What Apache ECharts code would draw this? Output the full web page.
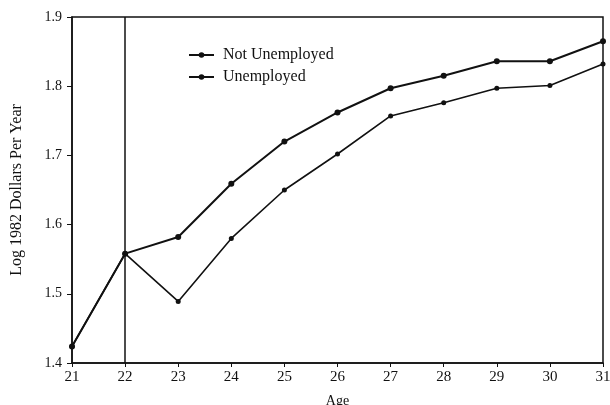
<!DOCTYPE html>
<html>
<head>
<meta charset="utf-8">
<script src="https://cdn.jsdelivr.net/npm/echarts@6/dist/echarts.min.js"></script>
<style>
  html, body { margin: 0; padding: 0; background: #fff; }
  #chart { width: 610px; height: 405px; }
</style>
</head>
<body>
<div id="chart"></div>
<script>
// Age in years and log earnings (1982 dollars) by unemployment history
const ages = [21, 22, 23, 24, 25, 26, 27, 28, 29, 30, 31];
const notUnemployed = [1.424, 1.558, 1.582, 1.659, 1.720, 1.762, 1.797, 1.815, 1.836, 1.836, 1.865];
const unemployed    = [1.424, 1.558, 1.489, 1.580, 1.650, 1.702, 1.757, 1.776, 1.797, 1.801, 1.832];
const markerAge = 22;

const ink = '#111';
const serif = '"Liberation Serif", "DejaVu Serif", serif';

const chart = echarts.init(document.getElementById('chart'), null, { renderer: 'canvas' });

const pairs = (ys) => ages.map((a, i) => [a, ys[i]]);

chart.setOption({
  animation: false,
  backgroundColor: '#fff',
  grid: {
    left: 72, right: 7, top: 17, bottom: 42,
    outerBoundsMode: 'none', containLabel: false,
    show: true, borderColor: ink, borderWidth: 1.5, backgroundColor: 'transparent'
  },
  legend: {
    orient: 'vertical',
    left: 183, top: 42,
    itemWidth: 25, itemHeight: 7, itemGap: 6,
    textStyle: { fontFamily: serif, fontSize: 16, color: ink, padding: [0, 0, 0, 4] },
    data: ['Not Unemployed', 'Unemployed']
  },
  xAxis: {
    type: 'value', min: 21, max: 31, interval: 1,
    name: 'Age', nameLocation: 'middle', nameGap: 31,
    nameTextStyle: { fontFamily: serif, fontSize: 14, color: ink, verticalAlign: 'top' },
    axisLine: { show: true, lineStyle: { color: ink, width: 1.5 } },
    axisTick: { show: true, length: 4, lineStyle: { color: ink } },
    axisLabel: { fontFamily: serif, fontSize: 15, color: ink, margin: 7 },
    splitLine: { show: false }
  },
  yAxis: {
    type: 'value', min: 1.4, max: 1.9, interval: 0.1,
    name: 'Log 1982 Dollars Per Year', nameLocation: 'middle', nameGap: 47,
    nameTextStyle: { fontFamily: serif, fontSize: 16, color: ink },
    axisLine: { show: true, lineStyle: { color: ink, width: 1.5 } },
    axisTick: { show: true, length: 5, lineStyle: { color: ink } },
    axisLabel: {
      fontFamily: serif, fontSize: 14, color: ink, margin: 10,
      formatter: (v) => v.toFixed(1)
    },
    splitLine: { show: false }
  },
  series: [
    {
      name: 'Not Unemployed', type: 'line',
      data: pairs(notUnemployed),
      symbol: 'circle', symbolSize: 6,
      lineStyle: { color: ink, width: 2 },
      itemStyle: { color: ink },
      markLine: {
        silent: true, symbol: 'none', label: { show: false },
        lineStyle: { color: ink, width: 1.5, type: 'solid' },
        data: [{ xAxis: markerAge }]
      }
    },
    {
      name: 'Unemployed', type: 'line',
      data: pairs(unemployed),
      symbol: 'circle', symbolSize: 5,
      lineStyle: { color: ink, width: 1.6 },
      itemStyle: { color: ink }
    }
  ]
});
</script>
</body>
</html>
